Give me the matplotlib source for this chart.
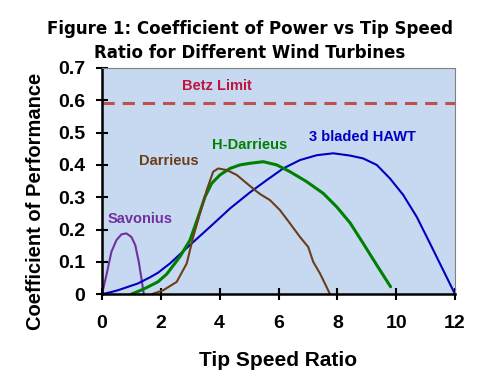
import matplotlib
matplotlib.use("Agg")
import matplotlib.pyplot as plt

# Curves (tip speed ratio, coefficient of performance)
savonius_x = [0.0, 0.15, 0.32, 0.49, 0.66, 0.83, 1.0, 1.13, 1.25, 1.34, 1.42]
savonius_y = [0.0, 0.059, 0.131, 0.167, 0.185, 0.188, 0.177, 0.152, 0.10, 0.049, 0.0]

hawt_x = [0.0, 0.25, 0.54, 1.22, 1.63, 1.9, 2.31, 2.99, 3.67, 4.35, 5.03, 5.6, 6.16, 6.73,
          7.3, 7.86, 8.43, 8.88, 9.34, 9.79, 10.24, 10.7, 11.15, 11.6, 12.0]
hawt_y = [0.0, 0.005, 0.012, 0.033, 0.052, 0.066, 0.095, 0.152, 0.208, 0.265, 0.315, 0.353, 0.389, 0.415,
          0.43, 0.436, 0.429, 0.42, 0.40, 0.358, 0.307, 0.239, 0.157, 0.074, 0.0]

hdar_x = [1.0, 1.4, 1.9, 2.2, 2.65, 2.99, 3.27, 3.5, 3.73, 4.01, 4.35, 4.69, 5.03, 5.48,
          5.94, 6.39, 6.96, 7.52, 7.98, 8.43, 8.88, 9.34, 9.81]
hdar_y = [0.0, 0.015, 0.038, 0.062, 0.116, 0.167, 0.239, 0.301, 0.343, 0.369, 0.389, 0.40, 0.405, 0.41,
          0.40, 0.379, 0.348, 0.312, 0.27, 0.221, 0.157, 0.09, 0.023]

dar_x = [1.7, 2.08, 2.54, 2.88, 3.1, 3.33, 3.56, 3.78, 3.95, 4.24, 4.58, 4.92, 5.2, 5.37,
         5.71, 6.05, 6.39, 6.73, 7.01, 7.18, 7.41, 7.63, 7.75]
dar_y = [0.0, 0.012, 0.038, 0.095, 0.177, 0.25, 0.322, 0.379, 0.389, 0.384, 0.369, 0.343, 0.322, 0.31,
         0.291, 0.26, 0.219, 0.177, 0.146, 0.10, 0.064, 0.023, 0.0]

betz = 0.593

fig = plt.figure(figsize=(5, 3.82), dpi=100)
ax = fig.add_axes([0.204, 0.230, 0.706, 0.592])
ax.set_facecolor('#C6D9F1')

kw = dict(solid_joinstyle='round', solid_capstyle='round')
ax.plot(savonius_x, savonius_y, color='#7030A0', lw=1.5, **kw)
ax.plot(hawt_x, hawt_y, color='#0000C0', lw=1.5, **kw)
ax.plot(hdar_x, hdar_y, color='#008000', lw=2.2, **kw)
ax.plot(dar_x, dar_y, color='#6B3E1A', lw=1.5, **kw)
ax.axhline(betz, color='#C0504D', lw=2.2, ls=(0, (4, 2.6)))

lab = dict(fontfamily='Liberation Sans', fontweight='bold', fontsize=10.5, ha='center', va='center')
ax.text(3.9, 0.644, 'Betz Limit', color='#C0143C', **lab)
ax.text(8.87, 0.487, '3 bladed HAWT', color='#0000C0', **lab)
ax.text(5.03, 0.461, 'H-Darrieus', color='#008000', **lab)
ax.text(2.28, 0.413, 'Darrieus', color='#6B3E1A', **lab)
ax.text(1.29, 0.234, 'Savonius', color='#7030A0', **lab)

ax.set_xlim(0, 12)
ax.set_ylim(0, 0.7)
ax.set_xticks([0, 2, 4, 6, 8, 10, 12])
ax.set_yticks([0, 0.1, 0.2, 0.3, 0.4, 0.5, 0.6, 0.7])
ax.set_yticklabels(['0', '0.1', '0.2', '0.3', '0.4', '0.5', '0.6', '0.7'])
ax.tick_params(direction='inout', length=8, width=1.5, labelsize=14)
ax.tick_params(axis='x', pad=11)
ax.tick_params(axis='y', pad=8)
for t in ax.get_xticklabels() + ax.get_yticklabels():
    t.set_fontfamily('Liberation Sans')
    t.set_fontweight('bold')

for s in ['left', 'bottom']:
    ax.spines[s].set_linewidth(1.8)
    ax.spines[s].set_color('black')
for s in ['top', 'right']:
    ax.spines[s].set_linewidth(0.8)
    ax.spines[s].set_color('#808080')

ax.set_xlabel('Tip Speed Ratio', fontfamily='Liberation Sans', fontweight='bold', fontsize=15, labelpad=14)
ax.set_ylabel('Coefficient of Performance', fontfamily='Liberation Sans', fontweight='bold', fontsize=14.5)
ax.yaxis.set_label_coords(-0.162, 0.41)

fig.suptitle('Figure 1: Coefficient of Power vs Tip Speed\nRatio for Different Wind Turbines',
             fontfamily='DejaVu Sans', fontweight='bold', fontsize=12, y=0.948, va='top', linespacing=1.45)

plt.savefig('out.png', dpi=100)
